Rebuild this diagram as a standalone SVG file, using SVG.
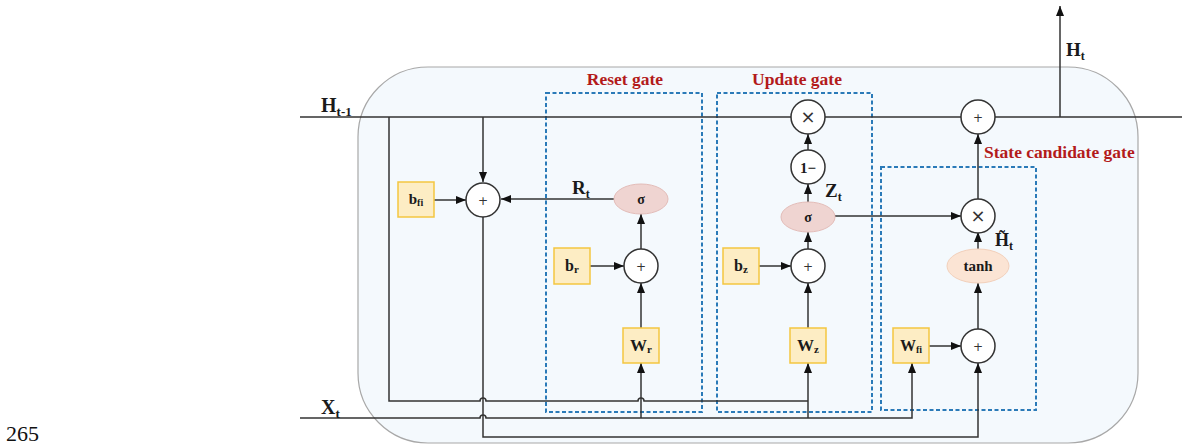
<svg xmlns="http://www.w3.org/2000/svg" width="1182" height="445" viewBox="0 0 1182 445">
<style>
.ln{fill:none;stroke:#333;stroke-width:1.5}
.op{fill:#fff;stroke:#333;stroke-width:1.5}
.box{fill:#fdedc4;stroke:#f3c640;stroke-width:1.5}
.sig{fill:#efd4d1;stroke:#e3bcb8;stroke-width:1}
.tnh{fill:#fbe4d4;stroke:#f2d0bb;stroke-width:1}
.gate{fill:none;stroke:#2a7ab8;stroke-width:2;stroke-dasharray:4,2.5}
.t{font-family:'Liberation Serif','DejaVu Serif',serif;font-weight:bold;fill:#1a1a1a}
.red{font-family:'Liberation Serif','DejaVu Serif',serif;font-weight:bold;fill:#b31b1b;font-size:17.5px}
.sym{font-family:'DejaVu Sans',sans-serif;fill:#333;text-anchor:middle}
</style>
<defs>
<marker id="ar" markerUnits="userSpaceOnUse" markerWidth="10" markerHeight="10" viewBox="0 0 10 10" refX="10" refY="5" orient="auto">
<path d="M0,1 L10,5 L0,9 Z" fill="#111"/>
</marker>
</defs>

<rect id="cell" x="358" y="67" width="780" height="376" rx="70" ry="70" fill="#f4f9fd" stroke="#a8a8a8" stroke-width="1.2"/>

<g id="gates">
<rect x="546" y="93" width="156" height="319" class="gate"/>
<rect x="717" y="93" width="155" height="319" class="gate"/>
<rect x="881" y="167" width="155" height="243" class="gate"/>
<text class="red" x="625" y="85" text-anchor="middle">Reset gate</text>
<text class="red" x="797" y="85" text-anchor="middle">Update gate</text>
<text class="red" x="984" y="158">State candidate gate</text>
</g>

<g id="connectors">
<path class="ln" d="M300,117 H791 M825,117 H961 M995,117 H1182"/>
<path class="ln" d="M1060,117 V6" marker-end="url(#ar)"/>
<path class="ln" d="M389,117 V401 H480 a3,3 0 0 1 6,0 H638 a3,3 0 0 1 6,0 H808"/>
<path class="ln" d="M300,418 H480 a3,3 0 0 1 6,0 H912 V363" marker-end="url(#ar)"/>
<path class="ln" d="M641,418 V363" marker-end="url(#ar)"/>
<path class="ln" d="M808,418 V363" marker-end="url(#ar)"/>
<path class="ln" d="M483,117 V182" marker-end="url(#ar)"/>
<path class="ln" d="M483,217 V437 H978 V363" marker-end="url(#ar)"/>
<path class="ln" d="M434,200 H466" marker-end="url(#ar)"/>
<path class="ln" d="M614,199 H501" marker-end="url(#ar)"/>
<path class="ln" d="M641,328 V283" marker-end="url(#ar)"/>
<path class="ln" d="M590,266 H624" marker-end="url(#ar)"/>
<path class="ln" d="M641,249 V214" marker-end="url(#ar)"/>
<path class="ln" d="M808,328 V283" marker-end="url(#ar)"/>
<path class="ln" d="M759,266 H791" marker-end="url(#ar)"/>
<path class="ln" d="M808,249 V232" marker-end="url(#ar)"/>
<path class="ln" d="M808,202 V184" marker-end="url(#ar)"/>
<path class="ln" d="M808,150 V134" marker-end="url(#ar)"/>
<path class="ln" d="M835,216 H961" marker-end="url(#ar)"/>
<path class="ln" d="M929,346 H961" marker-end="url(#ar)"/>
<path class="ln" d="M978,329 V283" marker-end="url(#ar)"/>
<path class="ln" d="M978,249 V232" marker-end="url(#ar)"/>
<path class="ln" d="M978,199 V134" marker-end="url(#ar)"/>
</g>

<g id="labels">
<text class="t" x="321" y="112" font-size="20">H<tspan font-size="13" dy="4">t-1</tspan></text>
<text class="t" x="321" y="414" font-size="20">X<tspan font-size="13" dy="4">t</tspan></text>
<text class="t" x="1066" y="56" font-size="19">H<tspan font-size="12" dy="4">t</tspan></text>
<text class="t" x="572" y="194" font-size="19">R<tspan font-size="12" dy="4">t</tspan></text>
<text class="t" x="825" y="197" font-size="19">Z<tspan font-size="12" dy="4">t</tspan></text>
<text class="t" x="995" y="246" font-size="18">H&#771;<tspan font-size="12" dy="4">t</tspan></text>
</g>

<g id="plus_h">
<circle class="op" cx="483" cy="200" r="17"/>
<text class="sym" x="483" y="204.5" font-size="12">+</text>
</g>
<g id="b_fi">
<rect class="box" x="398" y="182" width="36" height="35"/>
<text class="t" x="416" y="204" font-size="15" text-anchor="middle">b<tspan font-size="10" dy="2">fi</tspan></text>
</g>

<g id="sigma_r">
<ellipse class="sig" cx="641" cy="199" rx="27" ry="15"/>
<text class="t" x="641" y="203.5" font-size="14" text-anchor="middle" font-weight="normal">σ</text>
</g>
<g id="plus_r">
<circle class="op" cx="641" cy="266" r="17"/>
<text class="sym" x="641" y="270.5" font-size="12">+</text>
</g>
<g id="b_r">
<rect class="box" x="554" y="248" width="36" height="36"/>
<text class="t" x="572" y="271" font-size="16" text-anchor="middle">b<tspan font-size="11" dy="2">r</tspan></text>
</g>
<g id="W_r">
<rect class="box" x="623" y="328" width="36" height="35"/>
<text class="t" x="641" y="351" font-size="17" text-anchor="middle">W<tspan font-size="11" dy="2">r</tspan></text>
</g>

<g id="mul_z">
<circle class="op" cx="808" cy="117" r="17"/>
<text class="sym" x="808" y="123" font-size="18">×</text>
</g>
<g id="one_minus">
<circle class="op" cx="808" cy="167" r="17"/>
<text class="t" x="808" y="172.5" font-size="15" text-anchor="middle" font-weight="normal">1−</text>
</g>
<g id="sigma_z">
<ellipse class="sig" cx="808" cy="217" rx="27" ry="15"/>
<text class="t" x="808" y="221.5" font-size="14" text-anchor="middle" font-weight="normal">σ</text>
</g>
<g id="plus_z">
<circle class="op" cx="808" cy="266" r="17"/>
<text class="sym" x="808" y="270.5" font-size="12">+</text>
</g>
<g id="b_z">
<rect class="box" x="723" y="248" width="36" height="36"/>
<text class="t" x="741" y="271" font-size="16" text-anchor="middle">b<tspan font-size="11" dy="2">z</tspan></text>
</g>
<g id="W_z">
<rect class="box" x="790" y="328" width="36" height="35"/>
<text class="t" x="808" y="351" font-size="17" text-anchor="middle">W<tspan font-size="11" dy="2">z</tspan></text>
</g>

<g id="plus_out">
<circle class="op" cx="978" cy="117" r="17"/>
<text class="sym" x="978" y="121.5" font-size="12">+</text>
</g>
<g id="mul_h">
<circle class="op" cx="978" cy="216" r="17"/>
<text class="sym" x="978" y="222" font-size="18">×</text>
</g>
<g id="tanh">
<ellipse class="tnh" cx="978" cy="266" rx="31" ry="17"/>
<text class="t" x="978" y="271" font-size="15" text-anchor="middle">tanh</text>
</g>
<g id="plus_h2">
<circle class="op" cx="978" cy="346" r="17"/>
<text class="sym" x="978" y="350.5" font-size="12">+</text>
</g>
<g id="W_fi">
<rect class="box" x="893" y="328" width="36" height="35"/>
<text class="t" x="911" y="351" font-size="16" text-anchor="middle">W<tspan font-size="10" dy="2">fi</tspan></text>
</g>

<text x="6" y="441" font-family="'Liberation Serif','DejaVu Serif',serif" font-size="22" fill="#111">265</text>
</svg>
